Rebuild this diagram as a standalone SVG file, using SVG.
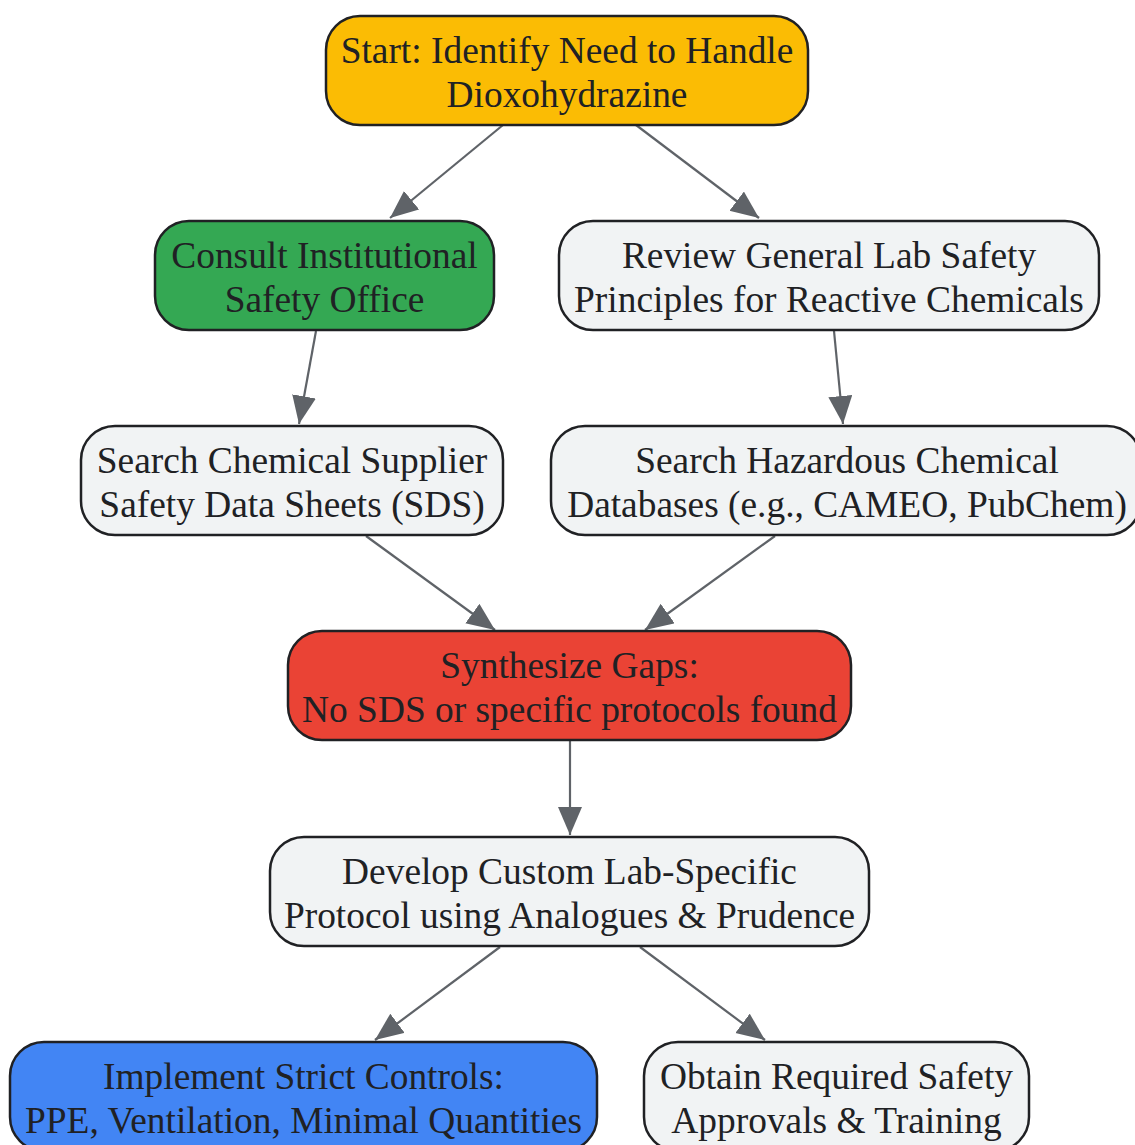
<svg xmlns="http://www.w3.org/2000/svg" width="1135" height="1145" viewBox="0 0 1135 1145">
<defs>
<style>
.n{stroke:#202124;stroke-width:2.5}
.t{font-family:"Liberation Serif","Times New Roman",serif;font-size:37.4px;fill:#202124;text-anchor:middle}
.e{stroke:#5f6368;stroke-width:2.2;fill:none;marker-end:url(#ah)}
</style>
<marker id="ah" markerUnits="userSpaceOnUse" markerWidth="30" markerHeight="26" refX="28" refY="12" orient="auto">
<path d="M0,0 L28,12 L0,24 Z" fill="#5f6368"/>
</marker>
</defs>
<rect width="1135" height="1145" fill="#ffffff"/>
<g id="edges">
<line class="e" x1="503" y1="125" x2="390" y2="218"/>
<line class="e" x1="636" y1="125" x2="759" y2="218"/>
<line class="e" x1="316" y1="331" x2="299" y2="424"/>
<line class="e" x1="834" y1="331" x2="843" y2="424"/>
<line class="e" x1="366" y1="536" x2="495" y2="630"/>
<line class="e" x1="775" y1="536" x2="645" y2="630"/>
<line class="e" x1="570" y1="741" x2="570" y2="835"/>
<line class="e" x1="500" y1="947" x2="375" y2="1040"/>
<line class="e" x1="640" y1="947" x2="765" y2="1040"/>
</g>
<g id="start">
<rect class="n" x="326" y="16" width="482" height="109" rx="34" fill="#FBBC04"/>
<text class="t" x="567" y="63">Start: Identify Need to Handle</text>
<text class="t" x="567" y="107">Dioxohydrazine</text>
</g>
<g id="consult">
<rect class="n" x="155" y="221" width="339" height="109" rx="34" fill="#34A853"/>
<text class="t" x="324.500" y="268">Consult Institutional</text>
<text class="t" x="324.500" y="312">Safety Office</text>
</g>
<g id="review">
<rect class="n" x="559" y="221" width="540" height="109" rx="34" fill="#F1F3F4"/>
<text class="t" x="829" y="268">Review General Lab Safety</text>
<text class="t" x="829" y="312">Principles for Reactive Chemicals</text>
</g>
<g id="sds">
<rect class="n" x="81" y="426" width="422" height="109" rx="34" fill="#F1F3F4"/>
<text class="t" x="292" y="473">Search Chemical Supplier</text>
<text class="t" x="292" y="517">Safety Data Sheets (SDS)</text>
</g>
<g id="hazdb">
<rect class="n" x="551" y="426" width="590" height="109" rx="34" fill="#F1F3F4"/>
<text class="t" x="847" y="473">Search Hazardous Chemical</text>
<text class="t" x="847" y="517">Databases (e.g., CAMEO, PubChem)</text>
</g>
<g id="gaps">
<rect class="n" x="288" y="631" width="563" height="109" rx="34" fill="#EA4335"/>
<text class="t" x="569.500" y="678">Synthesize Gaps:</text>
<text class="t" x="569.500" y="722">No SDS or specific protocols found</text>
</g>
<g id="develop">
<rect class="n" x="270" y="837" width="599" height="109" rx="34" fill="#F1F3F4"/>
<text class="t" x="569.500" y="884">Develop Custom Lab-Specific</text>
<text class="t" x="569.500" y="928">Protocol using Analogues &amp; Prudence</text>
</g>
<g id="implement">
<rect class="n" x="10" y="1042" width="587" height="109" rx="34" fill="#4285F4"/>
<text class="t" x="303.500" y="1089">Implement Strict Controls:</text>
<text class="t" x="303.500" y="1133">PPE, Ventilation, Minimal Quantities</text>
</g>
<g id="approvals">
<rect class="n" x="644" y="1042" width="385" height="109" rx="34" fill="#F1F3F4"/>
<text class="t" x="836.500" y="1089">Obtain Required Safety</text>
<text class="t" x="836.500" y="1133">Approvals &amp; Training</text>
</g>
</svg>
